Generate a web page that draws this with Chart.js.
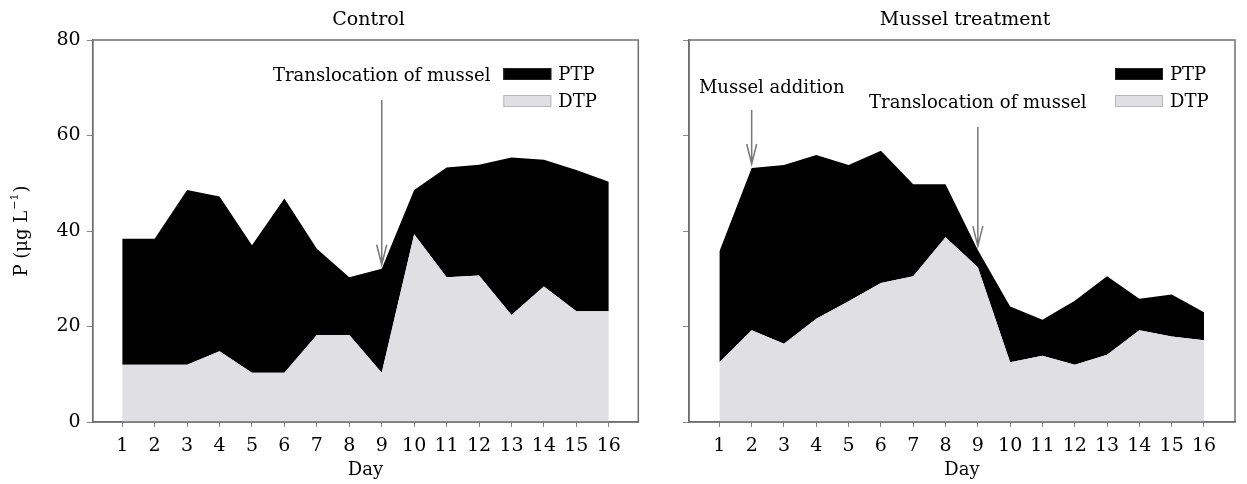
<!DOCTYPE html>
<html lang="en">
<head>
<meta charset="UTF-8">
<title>P in control and mussel treatment</title>
<script src="https://cdn.jsdelivr.net/npm/chart.js@4.4.1/dist/chart.umd.min.js"></script>
<style>
    body { margin: 0; background: #fff; }
    .wrap { position: relative; width: 1247px; height: 484px; }
    .panel { position: absolute; top: 0; height: 484px; }
    #left { left: 0; width: 650px; }
    #right { left: 650px; width: 597px; }
</style>
</head>
<body>
<div class="wrap">
    <div class="panel" id="left"><canvas id="controlChart"></canvas></div>
    <div class="panel" id="right"><canvas id="musselChart"></canvas></div>
</div>
<script>
// days and P values (ug/L)
const days = [1, 2, 3, 4, 5, 6, 7, 8, 9, 10, 11, 12, 13, 14, 15, 16];
const yTicks = [0, 20, 40, 60, 80];
const controlDTP = [12.0, 12.0, 12.0, 14.8, 10.3, 10.3, 18.2, 18.2, 10.3, 39.3, 30.3, 30.7, 22.4, 28.4, 23.2, 23.2];
const controlPTP = [26.4, 26.4, 36.6, 32.4, 26.7, 36.5, 18.1, 12.1, 21.8, 9.3, 23.0, 23.2, 33.0, 26.5, 29.6, 27.1];
const musselDTP = [12.5, 19.2, 16.4, 21.6, 25.3, 29.1, 30.5, 38.7, 32.4, 12.5, 13.9, 12.0, 14.1, 19.2, 17.9, 17.1];
const musselPTP = [23.2, 34.0, 37.4, 34.3, 28.5, 27.7, 19.3, 11.1, 3.6, 11.7, 7.5, 13.4, 16.4, 6.6, 8.8, 5.9];

const controlNotes = [{ text: 'Translocation of mussel', day: 9 }];
const musselNotes = [{ text: 'Mussel addition', day: 2 }, { text: 'Translocation of mussel', day: 9 }];

const FONT = "'DejaVu Serif', serif";
const GREY = '#6f6f6f';

function toPoints(vals) {
    return vals.map((v, i) => ({ x: days[i], y: v }));
}

// frame, titles, legend and arrows
const decor = {
    id: 'decor',
    afterDraw(chart, args, o) {
        const ctx = chart.ctx;
        const a = chart.chartArea;
        const xs = chart.scales.x, ys = chart.scales.y;
        ctx.save();
        ctx.strokeStyle = GREY;
        ctx.lineWidth = 1.5;
        ctx.strokeRect(a.left, a.top, a.right - a.left, a.bottom - a.top);

        ctx.fillStyle = '#000';
        ctx.textBaseline = 'middle';
        ctx.textAlign = 'center';
        ctx.font = '19px ' + FONT;
        ctx.fillText(o.title, (a.left + a.right) / 2 + 3, 20);
        ctx.font = '18px ' + FONT;
        ctx.fillText('Day', (a.left + a.right) / 2, 470);

        if (o.yTitle) {
            ctx.save();
            ctx.translate(22, 231);
            ctx.rotate(-Math.PI / 2);
            ctx.textAlign = 'left';
            const main = 'P (\u03bcg L', sup = '\u22121', end = ')';
            ctx.font = '18px ' + FONT;
            const w1 = ctx.measureText(main).width, w3 = ctx.measureText(end).width;
            ctx.font = '11px ' + FONT;
            const w2 = ctx.measureText(sup).width;
            let x = -(w1 + w2 + w3 + 2) / 2;
            ctx.font = '18px ' + FONT;
            ctx.fillText(main, x, 0);
            x += w1 + 1;
            ctx.font = '11px ' + FONT;
            ctx.fillText(sup, x, -7);
            x += w2 + 1;
            ctx.font = '18px ' + FONT;
            ctx.fillText(end, x, 0);
            ctx.restore();
        }

        // legend
        const lx = a.right - o.legendOffset;
        const items = chart.data.datasets.slice().reverse();
        ctx.font = '18px ' + FONT;
        ctx.textAlign = 'left';
        items.forEach((ds, i) => {
            const cy = 74 + i * 27;
            ctx.fillStyle = ds.backgroundColor;
            ctx.fillRect(lx, cy - 6, 48, 12);
            ctx.strokeStyle = ds.label === 'PTP' ? '#222' : '#b9b9b9';
            ctx.lineWidth = 1;
            ctx.strokeRect(lx + 0.5, cy - 5.5, 47, 11);
            ctx.fillStyle = '#000';
            ctx.fillText(ds.label, lx + 55, cy + 1);
        });

        // annotation arrows
        o.notes.forEach((n, k) => {
            const pos = o.notePos[k];
            const i = days.indexOf(n.day);
            const x = xs.getPixelForValue(n.day);
            const tip = ys.getPixelForValue(o.dtp[i] + o.ptp[i]) - 4;
            ctx.fillStyle = '#000';
            ctx.textAlign = 'center';
            ctx.font = '18px ' + FONT;
            ctx.fillText(n.text, x + pos.dx, pos.textY);
            ctx.strokeStyle = '#777';
            ctx.lineWidth = 1.5;
            ctx.beginPath();
            ctx.moveTo(x, pos.top);
            ctx.lineTo(x, tip);
            ctx.moveTo(x - 5, tip - 20);
            ctx.lineTo(x, tip);
            ctx.lineTo(x + 5, tip - 20);
            ctx.stroke();
        });
        ctx.restore();
    }
};

function makeChart(id, opts) {
    return new Chart(document.getElementById(id), {
        type: 'line',
        data: {
            datasets: [{
                label: 'DTP',
                data: toPoints(opts.dtp),
                backgroundColor: '#e0dfe4',
                borderWidth: 0,
                pointRadius: 0,
                fill: 'origin'
            }, {
                label: 'PTP',
                data: toPoints(opts.ptp),
                backgroundColor: '#000000',
                borderWidth: 0,
                pointRadius: 0,
                fill: '-1'
            }]
        },
        options: {
            responsive: true,
            maintainAspectRatio: false,
            animation: false,
            devicePixelRatio: 1,
            layout: { padding: { top: 40, right: opts.padRight, left: 0, bottom: 0 } },
            elements: { line: { tension: 0 } },
            plugins: {
                legend: { display: false },
                tooltip: { enabled: false },
                decor: {
                    title: opts.title,
                    yTitle: opts.yTitle,
                    legendOffset: opts.legendOffset,
                    notes: opts.notes,
                    notePos: opts.notePos,
                    dtp: opts.dtp,
                    ptp: opts.ptp
                }
            },
            scales: {
                x: {
                    type: 'linear',
                    min: opts.xMin,
                    max: opts.xMax,
                    afterBuildTicks: s => { s.ticks = days.map(d => ({ value: d })); },
                    afterFit: s => { s.height = 62; },
                    grid: { drawOnChartArea: false, drawTicks: true, tickLength: 5, color: '#888' },
                    border: { display: true, color: GREY, width: 1.5 },
                    ticks: {
                        autoSkip: false,
                        maxRotation: 0,
                        padding: 8,
                        color: '#000',
                        font: { family: FONT, size: 19 }
                    }
                },
                y: {
                    stacked: true,
                    min: 0,
                    max: 80,
                    afterBuildTicks: s => { s.ticks = yTicks.map(v => ({ value: v })); },
                    afterFit: s => { s.width = opts.axisWidth; },
                    grid: { drawOnChartArea: false, drawTicks: true, tickLength: 6, color: '#888' },
                    border: { display: true, color: GREY, width: 1.5 },
                    ticks: {
                        padding: 6,
                        color: '#000',
                        font: { family: FONT, size: 19 },
                        callback: v => opts.yLabels ? v : ''
                    }
                }
            }
        },
        plugins: [decor]
    });
}

makeChart('controlChart', {
    title: 'Control',
    yTitle: true,
    yLabels: true,
    dtp: controlDTP,
    ptp: controlPTP,
    axisWidth: 92.7,
    padRight: 11.7,
    xMin: 0.09,
    xMax: 16.91,
    legendOffset: 135,
    notes: controlNotes,
    notePos: [{ dx: 0, textY: 76, top: 100 }]
});

makeChart('musselChart', {
    title: 'Mussel treatment',
    yTitle: false,
    yLabels: false,
    dtp: musselDTP,
    ptp: musselPTP,
    axisWidth: 39,
    padRight: 12,
    xMin: 0.06,
    xMax: 16.96,
    legendOffset: 120,
    notes: musselNotes,
    notePos: [{ dx: 20, textY: 88, top: 110 }, { dx: 0, textY: 103, top: 127 }]
});
</script>
</body>
</html>
